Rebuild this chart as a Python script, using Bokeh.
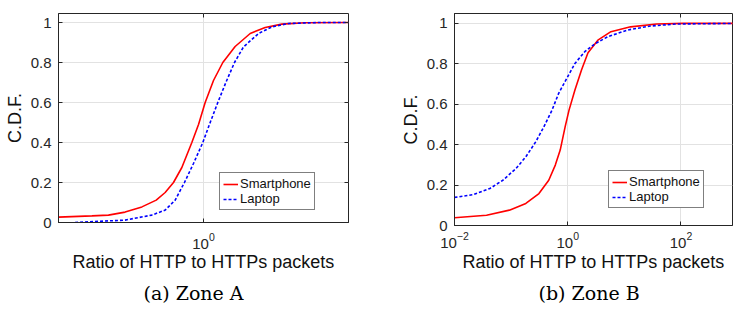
from bokeh.plotting import figure
from bokeh.layouts import row
from bokeh.models import (FixedTicker, NumeralTickFormatter, Title, Legend,
                          LogAxis, LinearAxis)
from bokeh.embed import file_html
from bokeh.resources import INLINE

# ---- data ----
# Zone A
a_phone_x = [0.10, 0.170, 0.221, 0.288, 0.376, 0.472, 0.544, 0.621, 0.709, 0.831,
             0.924, 1.027, 1.172, 1.359, 1.653, 2.099, 2.662, 3.467, 5.02, 10.0]
a_phone_y = [0.027, 0.033, 0.037, 0.052, 0.078, 0.112, 0.150, 0.200, 0.275, 0.400,
             0.490, 0.600, 0.710, 0.800, 0.880, 0.945, 0.975, 0.992, 0.999, 1.0]
a_laptop_x = [0.130, 0.288, 0.440, 0.544, 0.638, 0.739, 0.853, 0.989, 1.112, 1.255,
              1.426, 1.636, 1.888, 2.395, 2.958, 3.855, 6.21, 10.0]
a_laptop_y = [0.0, 0.012, 0.037, 0.062, 0.112, 0.200, 0.295, 0.400, 0.500, 0.600,
              0.700, 0.800, 0.878, 0.945, 0.978, 0.995, 1.0, 1.0]
# Zone B
b_phone_x = [0.01, 0.0368, 0.0933, 0.182, 0.310, 0.462, 0.603, 0.736, 0.899, 1.054,
             1.340, 1.750, 2.280, 3.404, 5.794, 12.88, 37.3, 108.4, 1000.0]
b_phone_y = [0.038, 0.051, 0.076, 0.109, 0.158, 0.224, 0.299, 0.373, 0.488, 0.571,
             0.670, 0.769, 0.855, 0.917, 0.959, 0.983, 0.997, 1.0, 1.0]
b_laptop_x = [0.01, 0.0216, 0.0421, 0.0716, 0.122, 0.182, 0.272, 0.378, 0.528, 0.689,
              0.962, 1.340, 2.000, 2.979, 5.070, 11.27, 28.6, 83.0, 1000.0]
b_laptop_y = [0.139, 0.153, 0.183, 0.224, 0.282, 0.340, 0.414, 0.488, 0.571, 0.653,
              0.728, 0.802, 0.860, 0.898, 0.934, 0.967, 0.987, 0.997, 1.0]

y_ticks = [0, 0.2, 0.4, 0.6, 0.8, 1]
a_x_ticks = [1]
b_x_ticks = [0.01, 1, 100]
series_names = ["Smartphone", "Laptop"]
x_title = "Ratio of HTTP to HTTPs packets"
y_title = "C.D.F."
captions = ["(a) Zone A", "(b) Zone B"]

FONT = "Liberation Sans"
AX = "#262626"


def style_tickonly(ax, ticker):
    ax.ticker = ticker
    ax.axis_line_color = None
    ax.major_tick_line_color = AX
    ax.major_tick_in = 4
    ax.major_tick_out = 0
    ax.minor_tick_line_color = None
    ax.major_label_text_font_size = "6px"
    ax.major_label_text_color = None
    ax.major_label_standoff = 0


def make(xr, yr, xticks, w, h, bl, br, bt, bb, xstand, xlstand, px, py,
         cap, coff, cstand, phx, phy, lpx, lpy, right_axis):
    p = figure(width=w, height=h, x_axis_type="log", x_range=xr, y_range=yr,
               output_backend="svg", toolbar_location=None,
               min_border_left=bl, min_border_right=br,
               min_border_top=bt, min_border_bottom=bb)
    p.frame_align = False
    p.background_fill_color = "white"
    p.border_fill_color = "white"
    p.outline_line_color = AX
    p.outline_line_width = 1
    tk = FixedTicker(ticks=xticks)
    ytk = FixedTicker(ticks=y_ticks)
    p.xaxis.ticker = tk
    p.xgrid.ticker = tk
    p.yaxis.ticker = ytk
    p.yaxis.formatter = NumeralTickFormatter(format="0.[0]")
    for ax in (p.xaxis, p.yaxis):
        ax.axis_line_color = AX
        ax.major_tick_line_color = AX
        ax.major_tick_in = 4
        ax.major_tick_out = 0
        ax.minor_tick_line_color = None
        ax.major_label_text_font = FONT
        ax.major_label_text_font_size = "15px"
        ax.major_label_text_color = AX
        ax.axis_label_text_font = FONT
        ax.axis_label_text_font_size = "18px"
        ax.axis_label_text_font_style = "normal"
        ax.axis_label_text_color = "#111111"
    p.xaxis.axis_label = x_title
    p.yaxis.axis_label = y_title
    p.xaxis.major_label_standoff = xstand
    p.xaxis.axis_label_standoff = xlstand
    p.yaxis.major_label_standoff = 7
    p.yaxis.axis_label_standoff = 3
    p.xgrid.grid_line_color = "#e2e2e2"
    p.ygrid.grid_line_color = "#e2e2e2"

    top = LogAxis()
    style_tickonly(top, FixedTicker(ticks=xticks))
    p.add_layout(top, "above")
    if right_axis:
        rax = LinearAxis()
        style_tickonly(rax, FixedTicker(ticks=y_ticks))
        p.add_layout(rax, "right")

    r1 = p.line(phx, phy, line_color="#ff0000", line_width=1.6)
    r2 = p.line(lpx, lpy, line_color="#0000ff", line_width=1.6, line_dash="3 2")
    leg = Legend(items=[(series_names[0], [r1]), (series_names[1], [r2])],
                 location=(px, py))
    leg.border_line_color = "black"
    leg.border_line_width = 1
    leg.background_fill_alpha = 1
    leg.padding = 3
    leg.spacing = 0
    leg.margin = 0
    leg.glyph_width = 15
    leg.glyph_height = 12
    leg.label_height = 12
    leg.label_standoff = 2
    leg.label_text_font = FONT
    leg.label_text_font_size = "13px"
    leg.label_text_color = "#111111"
    p.add_layout(leg, "center")

    t = Title(text=cap, align="left", offset=coff, standoff=cstand,
              text_font="DejaVu Serif", text_font_size="19px",
              text_font_style="normal", text_color="black")
    p.add_layout(t, "below")
    return p


p1 = make((0.1, 10), (0, 1.045), a_x_ticks, 370, 309, 58, 22, 13, 87, 10, 0,
          161, 12, captions[0], 85, 11,
          a_phone_x, a_phone_y, a_laptop_x, a_laptop_y, True)
p2 = make((0.01, 10 ** 2.91), (0, 1.049), b_x_ticks, 363, 309, 84, 1, 13, 83, 6, 1,
          154, 17, captions[1], 84, 11,
          b_phone_x, b_phone_y, b_laptop_x, b_laptop_y, False)

layout = row(p1, p2)
open("out.html", "w").write(file_html(layout, INLINE))
